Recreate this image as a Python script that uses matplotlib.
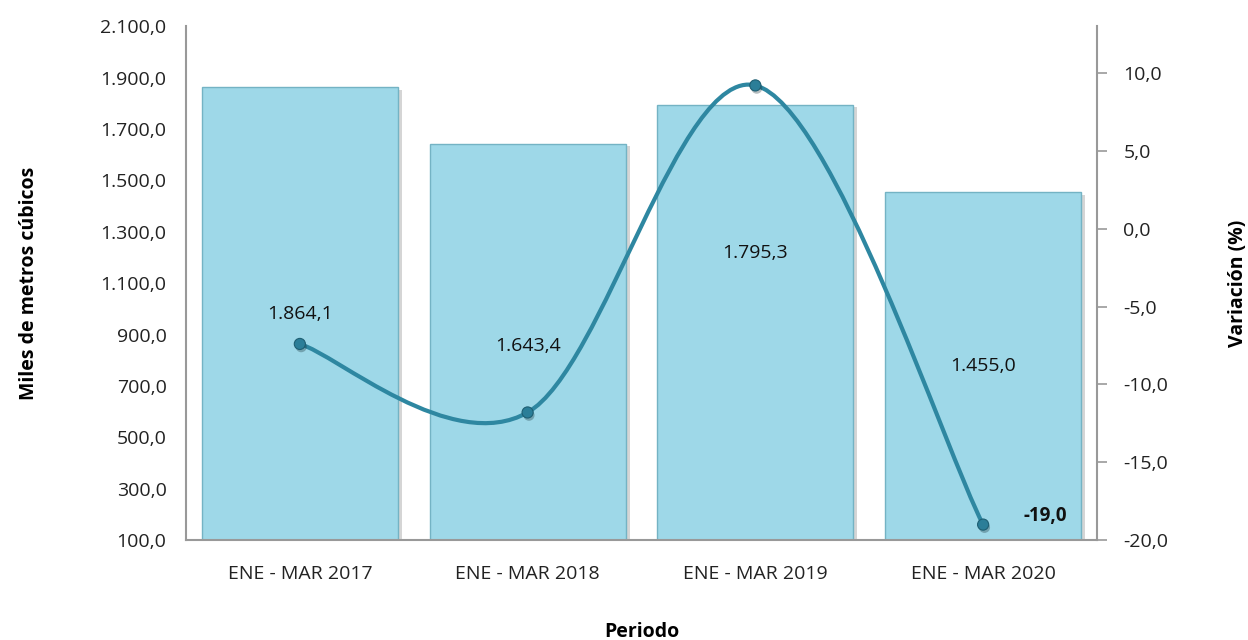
import numpy as np
import matplotlib.pyplot as plt
import matplotlib.patheffects as pe
from matplotlib.path import Path
from matplotlib.patches import PathPatch
from matplotlib.ticker import FuncFormatter

plt.rcParams['font.family'] = ['Open Sans', 'DejaVu Sans']

periodos = ['ENE - MAR 2017', 'ENE - MAR 2018', 'ENE - MAR 2019', 'ENE - MAR 2020']
volumen = [1864.1, 1643.4, 1795.3, 1455.0]   # miles de m3
variacion = [-7.4, -11.8, 9.2, -19.0]        # %

# label placement inside bars (fraction of bar height above the axis floor)
label_frac = [0.50, 0.49, 0.66, 0.50]

bar_color = '#9ED8E8'
line_color = '#2E87A1'
fs = 14


def fmt_es(v, dec=1):
    s = f'{v:,.{dec}f}'
    return s.replace(',', 'X').replace('.', ',').replace('X', '.')


def smooth_path(xs, ys):
    # Catmull-Rom style bezier, similar to the spreadsheet "smoothed line"
    pts = np.column_stack([xs, ys])
    n = len(pts)
    verts = [pts[0]]
    codes = [Path.MOVETO]
    for i in range(n - 1):
        p_prev = pts[i - 1] if i > 0 else pts[i]
        p_next = pts[i + 2] if i + 2 < n else pts[i + 1]
        c1 = pts[i] + (pts[i + 1] - p_prev) / 6
        c2 = pts[i + 1] - (p_next - pts[i]) / 6
        verts += [c1, c2, pts[i + 1]]
        codes += [Path.CURVE4] * 3
    return Path(verts, codes)


fig = plt.figure(figsize=(12.48, 6.4), dpi=100)
ax = fig.add_axes([0.149, 0.156, 0.730, 0.803])
x = np.arange(len(periodos))
ymin = 100

bars = ax.bar(x, volumen, width=0.86, color=bar_color, edgecolor='#74B3C4',
              linewidth=1.0, zorder=2)
for b in bars:
    b.set_path_effects([pe.SimplePatchShadow(offset=(3, -2), shadow_rgbFace='#888888', alpha=0.35),
                        pe.Normal()])

ax.set_ylim(ymin, 2100)
ax.set_xlim(-0.5, 3.5)
ax.set_yticks(np.arange(100, 2101, 200))
ax.yaxis.set_major_formatter(FuncFormatter(lambda v, p: fmt_es(v)))
ax.set_xticks(x)
ax.set_xticklabels(periodos)
ax.tick_params(axis='both', length=0, labelsize=fs, colors='#222222', pad=18)
ax.tick_params(axis='y', pad=14)
for s in ['top', 'right']:
    ax.spines[s].set_visible(False)
for s in ['left', 'bottom']:
    ax.spines[s].set_color('#999999')
    ax.spines[s].set_linewidth(1.5)

for xi, v, f in zip(x, volumen, label_frac):
    ax.text(xi, ymin + (v - ymin) * f, fmt_es(v), ha='center', va='center',
            fontsize=fs, color='#111111', zorder=5)

ax.set_ylabel('Miles de metros cúbicos', fontsize=fs, fontweight='bold', labelpad=44)
ax.set_xlabel('Periodo', fontsize=fs, fontweight='bold', labelpad=28)

ax2 = ax.twinx()
ax2.set_ylim(-20, 13)
ax2.set_yticks(np.arange(-20, 11, 5))
ax2.yaxis.set_major_formatter(FuncFormatter(lambda v, p: fmt_es(v)))
ax2.tick_params(axis='y', length=7, width=1.2, color='#999999', labelsize=fs,
                labelcolor='#222222', pad=12)
for s in ['top', 'left', 'bottom']:
    ax2.spines[s].set_visible(False)
ax2.spines['right'].set_color('#999999')
ax2.spines['right'].set_linewidth(1.5)

curve = PathPatch(smooth_path(x, variacion), facecolor='none', edgecolor=line_color,
                  linewidth=3.0, capstyle='round', zorder=3)
ax2.add_patch(curve)
ax2.plot(x, variacion, linestyle='none', marker='o', markersize=8,
         markerfacecolor='#2B7E98', markeredgecolor='#1E5F73', markeredgewidth=0.8, zorder=4,
         path_effects=[pe.SimplePatchShadow(offset=(1, -2), alpha=0.3), pe.Normal()])

ax2.annotate(fmt_es(variacion[-1]), (x[-1], variacion[-1]), xytext=(29, 6),
             textcoords='offset points', ha='left', va='center',
             fontsize=13.5, fontweight='bold', color='#111111')
ax2.set_ylabel('Variación (%)', fontsize=fs, fontweight='bold', labelpad=43)

fig.savefig('out.png', dpi=100, facecolor='white')
